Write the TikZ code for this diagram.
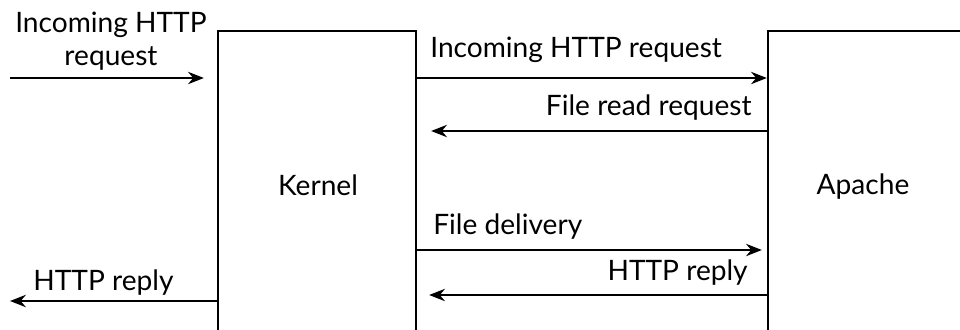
\documentclass[tikz,border=0pt]{standalone}
\usepackage{fontspec}
\setmainfont{Lato}
\usetikzlibrary{arrows.meta}

\begin{document}
\begin{tikzpicture}[x=0.02cm,y=-0.02cm,>={Stealth[length=9pt,width=7pt]},
  box/.style={draw,line width=1.3pt,inner sep=0pt},
  lbl/.style={font=\fontsize{16}{19}\selectfont,inner sep=0pt},
  flow/.style={->,line width=1.3pt}]
\clip(0,0)rectangle(960,329);
\useasboundingbox(0,0)rectangle(960,329);
% boxes
\node[box,minimum width=3.96cm,minimum height=6.08cm](kernel)at(317,183){};
\node[box,minimum width=4.24cm,minimum height=6.08cm](apache)at(874,183){};
\node[lbl](kname)at(318,185){Kernel};
\node[lbl](aname)at(863,187){Apache};
% outside
\coordinate(src)at(10,78);
\coordinate(dst)at(10,301);
\draw[flow](src)--([xshift=-0.26cm]kernel.west|-src);
\draw[flow](kernel.west|-dst)--(dst);
\node[lbl,align=center](in)at(111,41){Incoming HTTP\\request};
\node[lbl,anchor=west](out)at(33,283){HTTP reply};
% between kernel and apache
\coordinate(a1)at(0,78);
\coordinate(a2)at(0,131);
\coordinate(a3)at(0,250);
\coordinate(a4)at(0,295);
\draw[flow](kernel.east|-a1)--(apache.west|-a1);
\draw[flow](apache.west|-a2)--([xshift=0.28cm]kernel.east|-a2);
\draw[flow](kernel.east|-a3)--([xshift=-0.1cm]apache.west|-a3);
\draw[flow](apache.west|-a4)--([xshift=0.24cm]kernel.east|-a4);
\node[lbl,anchor=west](req)at(430,50){Incoming HTTP request};
\node[lbl,anchor=east](fread)at(752,108){File read request};
\node[lbl,anchor=west](fdel)at(433,227){File delivery};
\node[lbl,anchor=east](rep)at(748,273){HTTP reply};
\end{tikzpicture}
\end{document}
